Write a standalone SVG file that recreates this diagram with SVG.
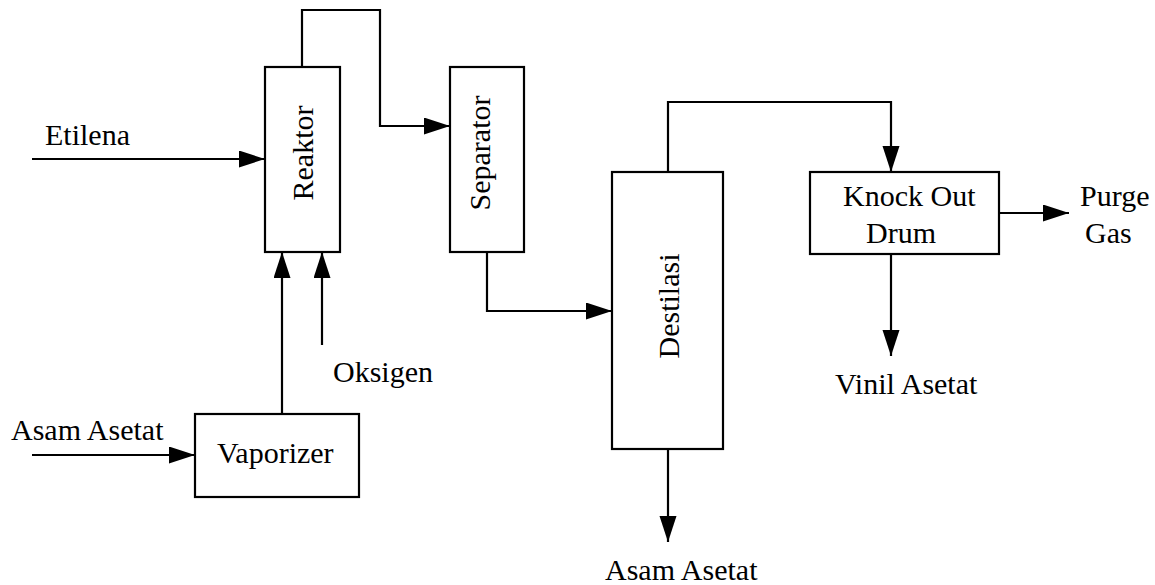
<svg xmlns="http://www.w3.org/2000/svg" width="1155" height="585" viewBox="0 0 1155 585">
<style>
  .box { fill: #ffffff; stroke: #000000; stroke-width: 2.2; }
  .conn { fill: none; stroke: #000000; stroke-width: 2.2; marker-end: url(#arrow); }
  .mid { text-anchor: middle; }
</style>
<defs>
  <marker id="arrow" markerUnits="userSpaceOnUse" markerWidth="28" markerHeight="18" refX="26" refY="8.5" orient="auto">
    <path d="M0,0 L26,8.5 L0,17 Z" fill="#000000"/>
  </marker>
</defs>
<rect width="1155" height="585" fill="#ffffff"/>
<g id="connectors">
  <path class="conn" d="M32,159 H265"/>
  <path class="conn" d="M302,67 V10 H380 V126 H450"/>
  <path class="conn" d="M282,414 V252"/>
  <path class="conn" d="M322,345 V252"/>
  <path class="conn" d="M32,455 H195"/>
  <path class="conn" d="M487,252 V311 H612"/>
  <path class="conn" d="M668,172 V102 H891 V172"/>
  <path class="conn" d="M999,213 H1069"/>
  <path class="conn" d="M891,254 V356"/>
  <path class="conn" d="M668,449 V542"/>
</g>
<g font-family="Liberation Serif, DejaVu Serif, serif" font-size="30" fill="#000000">
<g id="reaktor">
  <rect class="box" x="265" y="67" width="75" height="185"/>
  <text class="mid" transform="translate(313,153) rotate(-90)">Reaktor</text>
</g>
<g id="separator">
  <rect class="box" x="450" y="67" width="74" height="185"/>
  <text class="mid" transform="translate(490,153) rotate(-90)">Separator</text>
</g>
<g id="destilasi">
  <rect class="box" x="612" y="172" width="111" height="277"/>
  <text class="mid" transform="translate(679,306) rotate(-90)">Destilasi</text>
</g>
<g id="knockout">
  <rect class="box" x="810" y="172" width="189" height="82"/>
  <text x="843" y="206">Knock Out</text>
  <text x="866" y="243">Drum</text>
</g>
<g id="vaporizer">
  <rect class="box" x="195" y="414" width="164" height="83"/>
  <text x="217" y="463">Vaporizer</text>
</g>
<g id="labels">
  <text x="45" y="145">Etilena</text>
  <text x="333" y="382">Oksigen</text>
  <text x="11" y="440">Asam Asetat</text>
  <text x="1080" y="206">Purge</text>
  <text x="1085" y="243">Gas</text>
  <text x="835" y="394">Vinil Asetat</text>
  <text x="605" y="580">Asam Asetat</text>
</g>
</g>
</svg>
